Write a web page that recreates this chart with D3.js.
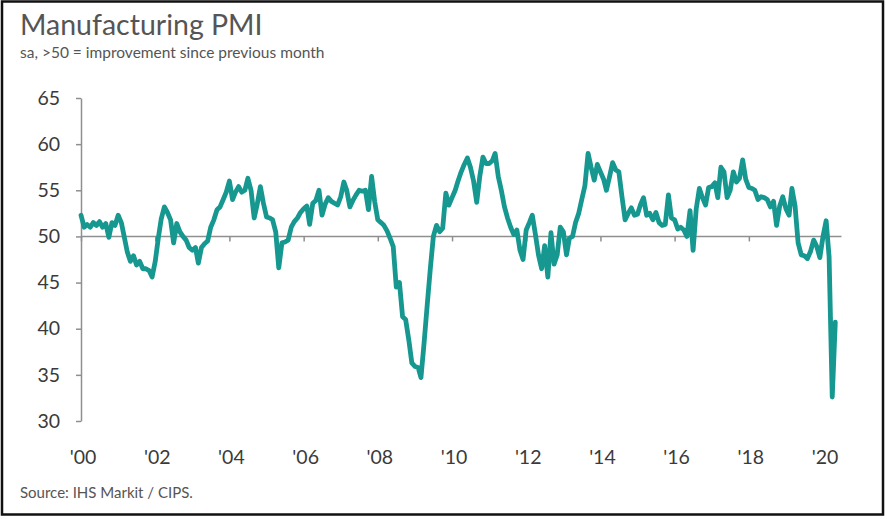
<!DOCTYPE html>
<html>
<head>
<meta charset="utf-8">
<script src="https://cdn.jsdelivr.net/npm/d3@7/dist/d3.min.js"></script>
<style>
  html, body { margin: 0; padding: 0; background: #fff; }
  svg { display: block; }
  text { font-family: Lato, "Open Sans", sans-serif; }
</style>
</head>
<body>
<svg id="chart" width="887" height="519"></svg>
<script>
// ---- data (monthly, Jan 2000 - May 2020) ----
const startYear = 2000;
const pmi = [
  // 2000
  52.3, 51.0, 51.3, 51.0, 51.5, 51.2, 51.6, 51.0, 51.4, 49.9, 51.5, 51.2,
  // 2001
  52.3, 51.5, 50.0, 48.3, 47.3, 47.9, 46.9, 47.3, 46.5, 46.5, 46.3, 45.6,
  // 2002
  47.3, 49.9, 51.9, 53.2, 52.6, 51.8, 49.3, 51.4, 50.5, 50.0, 49.6, 48.8,
  // 2003
  48.5, 48.8, 47.1, 48.8, 49.2, 49.5, 51.0, 51.8, 52.9, 53.2, 54.0, 54.8,
  // 2004
  56.0, 54.0, 54.8, 55.4, 54.8, 55.0, 56.3, 55.0, 52.0, 53.5, 55.4, 53.6,
  // 2005
  52.1, 52.0, 51.8, 50.5, 46.6, 49.3, 49.4, 49.6, 51.0, 51.6, 52.0, 52.6,
  // 2006
  53.0, 53.3, 51.3, 53.6, 53.9, 55.0, 52.3, 53.5, 54.2, 53.8, 53.6, 53.4,
  // 2007
  54.3, 55.9, 55.0, 53.2, 53.9, 54.5, 55.0, 54.9, 55.0, 52.9, 56.5, 53.8,
  // 2008
  51.8, 51.5, 51.2, 50.6, 49.8, 48.9, 44.5, 45.0, 41.3, 41.0, 38.8, 36.3,
  // 2009
  35.9, 35.8, 34.7, 38.5, 42.5, 46.5, 50.0, 51.2, 50.5, 50.9, 54.7, 53.4,
  // 2010
  54.2, 55.0, 56.0, 57.0, 57.8, 58.5, 57.5, 56.0, 53.7, 56.5, 58.6, 57.9,
  // 2011
  57.9, 58.2, 59.0, 56.5, 55.0, 53.2, 52.0, 51.0, 50.2, 50.7, 48.5, 47.5,
  // 2012
  50.7, 51.5, 52.3, 50.2, 48.0, 46.5, 49.0, 45.6, 50.4, 47.0, 48.0, 51.0,
  // 2013
  50.5, 48.0, 49.8, 50.0, 51.5, 52.5, 54.0, 55.5, 59.0, 57.5, 56.1, 57.8,
  // 2014
  57.0, 56.2, 55.0, 56.5, 58.0, 57.2, 57.0, 54.3, 51.8, 52.5, 53.1, 52.3,
  // 2015
  52.4, 53.5, 54.2, 52.3, 52.5, 51.8, 52.6, 51.5, 51.2, 51.3, 54.5, 52.0,
  // 2016
  51.8, 50.8, 51.0, 50.7, 50.0, 52.8, 48.5, 53.0, 55.2, 54.2, 53.4, 55.3,
  // 2017
  55.4, 55.8, 54.2, 57.5, 57.0, 54.2, 55.0, 57.0, 55.9, 56.3, 58.3, 56.2,
  // 2018
  55.3, 55.2, 55.0, 54.0, 54.3, 54.2, 54.0, 53.2, 53.8, 51.2, 53.3, 54.3,
  // 2019
  53.0, 52.3, 55.2, 53.3, 49.3, 48.0, 47.9, 47.6, 48.4, 49.6, 48.9, 47.7,
  // 2020
  50.0, 51.7, 47.8, 32.6, 40.7
];
const yTicks = [30, 35, 40, 45, 50, 55, 60, 65];
const xTickYears = [2000, 2002, 2004, 2006, 2008, 2010, 2012, 2014, 2016, 2018, 2020];
const xTickLabels = ["'00", "'02", "'04", "'06", "'08", "'10", "'12", "'14", "'16", "'18", "'20"];
const titleText = "Manufacturing PMI";
const subtitleText = "sa, >50 = improvement since previous month";
const sourceText = "Source: IHS Markit / CIPS.";
const refLevel = 50;

// ---- drawing ----
const svg = d3.select("#chart");
const W = 887, H = 519;

svg.append("rect").attr("x", 0).attr("y", 0).attr("width", W).attr("height", H).attr("fill", "#fff");
// outer frame
svg.append("rect")
  .attr("x", 2).attr("y", 1.5).attr("width", 881).attr("height", 513)
  .attr("fill", "none").attr("stroke", "#111").attr("stroke-width", 2.5);

const series = pmi.map((v, i) => ({ date: new Date(startYear, i, 1), value: v }));

const x = d3.scaleTime()
  .domain([new Date(2000, 0, 1), new Date(2020, 0, 1)])
  .range([81, 823]);
const y = d3.scaleLinear().domain([30, 65]).range([421, 98]);

const axisColor = "#8f8f8f";
const textColor = "#3a3a3a";

// title
svg.append("text").attr("x", 20).attr("y", 35)
  .attr("font-size", 28.5).attr("fill", "#555").text(titleText);
svg.append("text").attr("x", 20).attr("y", 58)
  .attr("font-size", 15.5).attr("fill", "#555").text(subtitleText);

// y axis
const yAxis = d3.axisLeft(y).tickValues(yTicks).tickSize(5).tickPadding(16).tickSizeOuter(0);
const gy = svg.append("g").attr("transform", `translate(${x(new Date(2000,0,1))},0)`).call(yAxis);
gy.select(".domain").attr("stroke", axisColor).attr("stroke-width", 1.5);
gy.selectAll(".tick line").attr("stroke", axisColor).attr("stroke-width", 1.5);
gy.selectAll(".tick text").attr("font-size", 19.5).attr("fill", textColor)
  .attr("font-family", "Lato, sans-serif");

// x axis drawn along the 50 reference line
const xAxis = d3.axisBottom(x)
  .tickValues(xTickYears.map(yr => new Date(yr, 0, 1)))
  .tickSize(5).tickFormat(() => "").tickSizeOuter(0);
const gx = svg.append("g").attr("transform", `translate(0,${y(refLevel)})`).call(xAxis);
gx.select(".domain").remove();
gx.selectAll(".tick line").attr("stroke", axisColor).attr("stroke-width", 1.5);
svg.append("line")
  .attr("x1", x(new Date(2000, 0, 1))).attr("x2", x(new Date(2020, 6, 1)))
  .attr("y1", y(refLevel)).attr("y2", y(refLevel))
  .attr("stroke", axisColor).attr("stroke-width", 1.5);

// x tick labels at bottom
svg.append("g").selectAll("text").data(xTickYears).join("text")
  .attr("x", (d) => x(new Date(d, 0, 1)) + 2)
  .attr("y", 464)
  .attr("text-anchor", "middle")
  .attr("font-size", 19.5).attr("fill", textColor)
  .text((d, i) => xTickLabels[i]);

// line
const line = d3.line().x(d => x(d.date)).y(d => y(d.value));
svg.append("path").datum(series)
  .attr("d", line)
  .attr("fill", "none").attr("stroke", "#16978f").attr("stroke-width", 4.8)
  .attr("stroke-linejoin", "round").attr("stroke-linecap", "round");

// source
svg.append("text").attr("x", 20).attr("y", 498)
  .attr("font-size", 15).attr("fill", "#555").text(sourceText);
</script>
</body>
</html>
